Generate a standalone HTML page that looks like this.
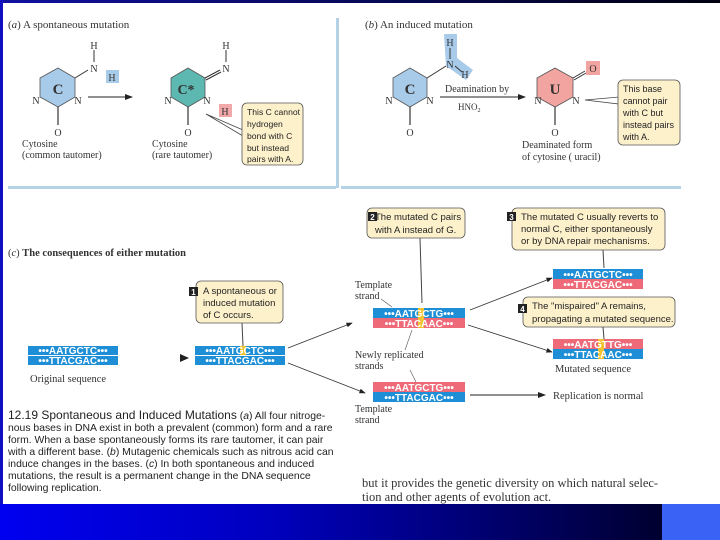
<!DOCTYPE html>
<html><head><meta charset="utf-8"><style>
html,body{margin:0;padding:0;width:720px;height:540px;overflow:hidden;background:#fff}
svg{display:block}
.s{font-family:"Liberation Serif",serif;fill:#333}
.a{font-family:"Liberation Sans",sans-serif;fill:#222}
.d{font-family:"Liberation Sans",sans-serif;font-weight:bold;fill:#fff;font-size:10px}
</style></head><body>
<svg width="720" height="540" viewBox="0 0 720 540" xmlns="http://www.w3.org/2000/svg">
<defs>
<linearGradient id="top" x1="0" x2="1"><stop offset="0" stop-color="#1010a0"/><stop offset="1" stop-color="#000010"/></linearGradient>
<linearGradient id="bot" x1="0" x2="1"><stop offset="0" stop-color="#0000f0"/><stop offset="0.4" stop-color="#0000c0"/><stop offset="1" stop-color="#000030"/></linearGradient>
<marker id="ar" markerWidth="8" markerHeight="6" refX="7" refY="3" orient="auto"><path d="M0,0 L8,3 L0,6 Z" fill="#222"/></marker>
</defs>
<rect x="0" y="0" width="720" height="3" fill="url(#top)"/>
<rect x="0" y="0" width="3" height="505" fill="#1010c0"/>

<rect x="336" y="18" width="3" height="170" fill="#b4d2e6"/>
<rect x="8" y="186" width="328" height="3" fill="#b4d2e6"/>
<rect x="341" y="186" width="340" height="3" fill="#b4d2e6"/>

<text class="s" x="8" y="28" font-size="11">(<tspan font-style="italic">a</tspan>) A spontaneous mutation</text>
<polygon points="58,68 75,78 75,97 58,107 40,97 40,78" fill="#a9cbea" stroke="#555" stroke-width="0.8"/>
<text class="s" x="58" y="94" font-size="15" text-anchor="middle" font-weight="bold" fill="#334">C</text>
<text class="s" x="36" y="104" font-size="10" text-anchor="middle">N</text>
<text class="s" x="78" y="104" font-size="10" text-anchor="middle">N</text>
<line x1="58" y1="107" x2="58" y2="125" stroke="#333" stroke-width="1.2"/>
<text class="s" x="58" y="136" font-size="10" text-anchor="middle">O</text>
<line x1="75" y1="78" x2="88" y2="70" stroke="#333"/>
<text class="s" x="94" y="72" font-size="10" text-anchor="middle">N</text>
<line x1="94" y1="50" x2="94" y2="62" stroke="#333"/>
<text class="s" x="94" y="49" font-size="10" text-anchor="middle">H</text>
<rect x="106" y="70" width="13" height="13" fill="#a9cbea"/>
<text class="s" x="112" y="81" font-size="10" text-anchor="middle">H</text>
<line x1="88" y1="97" x2="132" y2="97" stroke="#222" marker-end="url(#ar)"/>
<text class="s" x="22" y="147" font-size="10">Cytosine</text>
<text class="s" x="22" y="158" font-size="10">(common tautomer)</text>

<polygon points="188,68 205,78 205,97 188,107 171,97 171,78" fill="#5db8b2" stroke="#555" stroke-width="0.8"/>
<text class="s" x="186" y="94" font-size="14" text-anchor="middle" font-weight="bold" fill="#234">C*</text>
<text class="s" x="168" y="104" font-size="10" text-anchor="middle">N</text>
<text class="s" x="207" y="104" font-size="10" text-anchor="middle">N</text>
<line x1="188" y1="107" x2="188" y2="125" stroke="#333" stroke-width="1.2"/>
<text class="s" x="188" y="136" font-size="10" text-anchor="middle">O</text>
<line x1="205" y1="78" x2="220" y2="70" stroke="#333"/><line x1="206" y1="80" x2="221" y2="72" stroke="#333"/>
<text class="s" x="226" y="72" font-size="10" text-anchor="middle">N</text>
<line x1="226" y1="50" x2="226" y2="62" stroke="#333"/>
<text class="s" x="226" y="49" font-size="10" text-anchor="middle">H</text>
<rect x="219" y="104" width="13" height="13" fill="#f0a8a8"/>
<text class="s" x="225" y="115" font-size="10" text-anchor="middle">H</text>
<polygon points="206,114 243,130 243,136" fill="#fff" stroke="#444" stroke-width="0.8"/>
<rect x="242" y="103" width="61" height="62" rx="5" fill="#fdf1cc" stroke="#555" stroke-width="0.8"/>
<g class="a" font-size="8.6"><text x="247" y="115">This C cannot</text><text x="247" y="127">hydrogen</text><text x="247" y="139">bond with C</text><text x="247" y="151">but instead</text><text x="247" y="162">pairs with A.</text></g>
<text class="s" x="152" y="147" font-size="10">Cytosine</text>
<text class="s" x="152" y="158" font-size="10">(rare tautomer)</text>

<text class="s" x="365" y="28" font-size="11">(<tspan font-style="italic">b</tspan>) An induced mutation</text>
<polygon points="444,34 457,34 457,58 473,70 466,80 446,66" fill="#a9cbea"/>
<polygon points="410,68 427,78 427,97 410,107 393,97 393,78" fill="#a9cbea" stroke="#555" stroke-width="0.8"/>
<text class="s" x="410" y="94" font-size="15" text-anchor="middle" font-weight="bold" fill="#334">C</text>
<text class="s" x="389" y="104" font-size="10" text-anchor="middle">N</text>
<text class="s" x="430" y="104" font-size="10" text-anchor="middle">N</text>
<line x1="410" y1="107" x2="410" y2="125" stroke="#333" stroke-width="1.2"/>
<text class="s" x="410" y="136" font-size="10" text-anchor="middle">O</text>
<line x1="427" y1="78" x2="446" y2="66" stroke="#333"/>
<text class="s" x="450" y="68" font-size="10" text-anchor="middle">N</text>
<line x1="450" y1="48" x2="450" y2="59" stroke="#333"/>
<text class="s" x="450" y="46" font-size="10" text-anchor="middle">H</text>
<line x1="455" y1="66" x2="462" y2="72" stroke="#333"/>
<text class="s" x="465" y="78" font-size="10" text-anchor="middle">H</text>
<line x1="440" y1="97" x2="525" y2="97" stroke="#222" marker-end="url(#ar)"/>
<text class="s" x="445" y="92" font-size="10">Deamination by</text>
<text class="s" x="458" y="110" font-size="9">HNO<tspan font-size="6" dy="2">2</tspan></text>

<polygon points="555,68 573,78 573,97 555,107 537,97 537,78" fill="#f2a4a0" stroke="#555" stroke-width="0.8"/>
<text class="s" x="555" y="94" font-size="15" text-anchor="middle" font-weight="bold" fill="#433">U</text>
<text class="s" x="538" y="104" font-size="10" text-anchor="middle">N</text>
<text class="s" x="576" y="104" font-size="10" text-anchor="middle">N</text>
<line x1="555" y1="107" x2="555" y2="125" stroke="#333" stroke-width="1.2"/>
<text class="s" x="555" y="136" font-size="10" text-anchor="middle">O</text>
<line x1="573" y1="78" x2="585" y2="71" stroke="#333"/><line x1="574" y1="80" x2="586" y2="73" stroke="#333"/>
<rect x="586" y="61" width="14" height="14" fill="#f2a4a0"/>
<text class="s" x="593" y="72" font-size="10" text-anchor="middle">O</text>
<polygon points="585,100 619,97 619,104" fill="#fff" stroke="#444" stroke-width="0.8"/>
<rect x="618" y="80" width="62" height="65" rx="5" fill="#fdf1cc" stroke="#555" stroke-width="0.8"/>
<g class="a" font-size="9"><text x="623" y="92">This base</text><text x="623" y="104">cannot pair</text><text x="623" y="116">with C but</text><text x="623" y="128">instead pairs</text><text x="623" y="140">with A.</text></g>
<text class="s" x="522" y="148" font-size="10">Deaminated form</text>
<text class="s" x="522" y="160" font-size="10">of cytosine (    uracil)</text>

<text class="s" x="8" y="256" font-size="10.5">(<tspan font-style="italic">c</tspan>) <tspan font-weight="bold">The consequences of either mutation</tspan></text>

<rect x="28" y="346" width="90" height="9" fill="#1e8fd6"/><rect x="28" y="356" width="90" height="9" fill="#1e8fd6"/>
<text class="d" x="73" y="354" text-anchor="middle">•••AATGCTC•••</text>
<text class="d" x="73" y="364" text-anchor="middle">•••TTACGAC•••</text>
<text class="s" x="30" y="382" font-size="10.5">Original sequence</text>
<polygon points="180,354 189,358 180,362" fill="#222"/>

<rect x="195" y="346" width="90" height="9" fill="#1e8fd6"/><rect x="195" y="356" width="90" height="9" fill="#1e8fd6"/>
<rect x="240" y="346" width="6" height="9" fill="#f2c230"/>
<text class="d" x="240" y="354" text-anchor="middle">•••AATGCTC•••</text>
<text class="d" x="240" y="364" text-anchor="middle">•••TTACGAC•••</text>
<line x1="242" y1="323" x2="243" y2="346" stroke="#444"/>
<rect x="196" y="281" width="87" height="42" rx="5" fill="#fdf1cc" stroke="#555" stroke-width="0.8"/>
<rect x="189" y="287" width="9" height="9" fill="#222"/><text x="193.5" y="295" font-size="8" fill="#fff" text-anchor="middle" font-family="Liberation Sans" font-weight="bold">1</text>
<g class="a" font-size="9.5"><text x="203" y="294">A spontaneous or</text><text x="203" y="306">induced mutation</text><text x="203" y="318">of C occurs.</text></g>
<line x1="288" y1="348" x2="352" y2="323" stroke="#333" stroke-width="0.8" marker-end="url(#ar)"/>
<line x1="288" y1="363" x2="365" y2="393" stroke="#333" stroke-width="0.8" marker-end="url(#ar)"/>

<rect x="373" y="308" width="92" height="10" fill="#1e8fd6"/><rect x="373" y="318" width="92" height="10" fill="#ee6a78"/>
<rect x="418" y="308" width="6" height="20" fill="#f2c230"/>
<text class="d" x="419" y="317" text-anchor="middle">•••AATGCTG•••</text>
<text class="d" x="419" y="327" text-anchor="middle">•••TTACAAC•••</text>
<rect x="373" y="382" width="92" height="10" fill="#ee6a78"/><rect x="373" y="392" width="92" height="10" fill="#1e8fd6"/>
<text class="d" x="419" y="391" text-anchor="middle">•••AATGCTG•••</text>
<text class="d" x="419" y="401" text-anchor="middle">•••TTACGAC•••</text>
<g class="s" font-size="10"><text x="355" y="288">Template</text><text x="355" y="299">strand</text>
<text x="355" y="358">Newly replicated</text><text x="355" y="369">strands</text>
<text x="355" y="412">Template</text><text x="355" y="423">strand</text></g>
<line x1="381" y1="299" x2="392" y2="307" stroke="#555" stroke-width="0.6"/>
<line x1="412" y1="330" x2="405" y2="350" stroke="#555" stroke-width="0.6"/>
<line x1="410" y1="370" x2="416" y2="382" stroke="#555" stroke-width="0.6"/>
<line x1="470" y1="395" x2="545" y2="395" stroke="#222" marker-end="url(#ar)"/>
<text class="s" x="553" y="399" font-size="10.5">Replication is normal</text>

<line x1="420" y1="238" x2="422" y2="303" stroke="#444"/>
<rect x="367" y="208" width="98" height="30" rx="5" fill="#fdf1cc" stroke="#555" stroke-width="0.8"/>
<rect x="368" y="212" width="9" height="9" fill="#222"/><text x="372.5" y="220" font-size="8" fill="#fff" text-anchor="middle" font-family="Liberation Sans" font-weight="bold">2</text>
<g class="a" font-size="9.5"><text x="375" y="220">The mutated C pairs</text><text x="375" y="233">with A instead of G.</text></g>

<line x1="470" y1="310" x2="552" y2="278" stroke="#333" stroke-width="0.8" marker-end="url(#ar)"/>
<line x1="468" y1="325" x2="552" y2="352" stroke="#333" stroke-width="0.8" marker-end="url(#ar)"/>

<rect x="512" y="208" width="153" height="42" rx="5" fill="#fdf1cc" stroke="#555" stroke-width="0.8"/>
<line x1="603" y1="250" x2="604" y2="268" stroke="#444"/>
<rect x="507" y="212" width="9" height="9" fill="#222"/><text x="511.5" y="220" font-size="8" fill="#fff" text-anchor="middle" font-family="Liberation Sans" font-weight="bold">3</text>
<g class="a" font-size="9.5"><text x="521" y="220">The mutated C usually reverts to</text><text x="521" y="232">normal C, either spontaneously</text><text x="521" y="244">or by DNA repair mechanisms.</text></g>

<rect x="553" y="269" width="90" height="10" fill="#1e8fd6"/><rect x="553" y="279" width="90" height="10" fill="#ee6a78"/>
<text class="d" x="598" y="278" text-anchor="middle">•••AATGCTC•••</text>
<text class="d" x="598" y="288" text-anchor="middle">•••TTACGAC•••</text>

<rect x="523" y="297" width="152" height="30" rx="5" fill="#fdf1cc" stroke="#555" stroke-width="0.8"/>
<line x1="603" y1="327" x2="604" y2="339" stroke="#444"/>
<rect x="518" y="304" width="9" height="9" fill="#222"/><text x="522.5" y="312" font-size="8" fill="#fff" text-anchor="middle" font-family="Liberation Sans" font-weight="bold">4</text>
<g class="a" font-size="9.5"><text x="532" y="309">The "mispaired" A remains,</text><text x="532" y="322">propagating a mutated sequence.</text></g>

<rect x="553" y="339" width="90" height="10" fill="#ee6a78"/><rect x="553" y="349" width="90" height="10" fill="#1e8fd6"/>
<rect x="598" y="339" width="6" height="20" fill="#f2c230"/>
<text class="d" x="598" y="348" text-anchor="middle">•••AATGTTG•••</text>
<text class="d" x="598" y="358" text-anchor="middle">•••TTACAAC•••</text>
<text class="s" x="555" y="372" font-size="10.5">Mutated sequence</text>

<g class="a" font-size="10.4" fill="#111">
<text x="8" y="419"><tspan font-size="12">12.19  Spontaneous and Induced Mutations</tspan>    (<tspan font-style="italic">a</tspan>) All four nitroge-</text>
<text x="8" y="431">nous bases in DNA exist in both a prevalent (common) form and a rare</text>
<text x="8" y="443">form. When a base spontaneously forms its rare tautomer, it can pair</text>
<text x="8" y="455">with a different base. (<tspan font-style="italic">b</tspan>) Mutagenic chemicals such as nitrous acid can</text>
<text x="8" y="467">induce changes in the bases. (<tspan font-style="italic">c</tspan>) In both spontaneous and induced</text>
<text x="8" y="479">mutations, the result is a permanent change in the DNA sequence</text>
<text x="8" y="491">following replication.</text>
</g>
<g class="s" font-size="12.5" fill="#222">
<text x="362" y="487">but it provides the genetic diversity on which natural selec-</text>
<text x="362" y="501">tion and other agents of evolution act.</text>
</g>
<rect x="0" y="504" width="662" height="36" fill="url(#bot)"/>
<rect x="662" y="504" width="58" height="36" fill="#3a62f5"/>
</svg>
</body></html>
